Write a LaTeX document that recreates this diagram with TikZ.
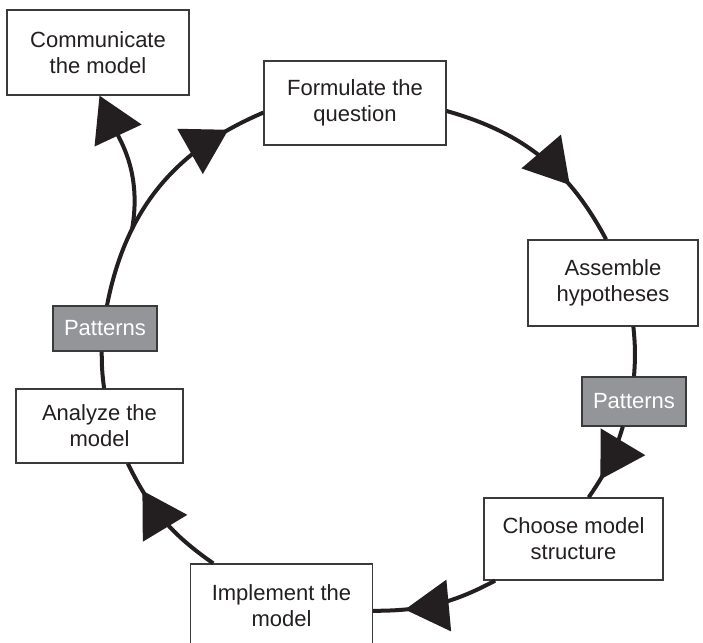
\documentclass[tikz,border=0pt]{standalone}
\usepackage{fontspec}
\setmainfont{Liberation Sans}
\usepackage{tikz}
\usetikzlibrary{arrows.meta,decorations.markings}
\definecolor{patgray}{HTML}{939598}
\definecolor{boxline}{HTML}{3A3A3A}
\definecolor{ink}{HTML}{231F20}
\newcommand{\cyclefont}{\fontsize{22}{26}\selectfont}

\begin{document}
\begin{tikzpicture}
    [x=1pt,y=1pt,line width=4pt,draw=ink,
     every node/.style={rectangle,draw=boxline,line width=1.3pt,fill=white,text=ink,
       align=center,inner sep=0pt,font=\cyclefont},
     pat/.style={fill=patgray,text=white},
     flowtip/.style={decoration={markings,
       mark=at position #1 with {\arrow{Triangle[length=44pt,width=51pt]}}},
       postaction={decorate}}]
    \useasboundingbox (0,0) rectangle (703,642);

    \node[minimum width=182,minimum height=85] (nc) at (98,589.5) {Communicate\\the model};
    \node[minimum width=182,minimum height=84] (nq) at (355,539) {Formulate the\\question};
    \node[minimum width=170,minimum height=86] (nh) at (613,359) {Assemble\\hypotheses};
    \node[pat,minimum width=104,minimum height=49] (np2) at (634,240.5) {Patterns};
    \node[minimum width=179,minimum height=82] (ns) at (573.5,103) {Choose model\\structure};
    \node[minimum width=182,minimum height=84] (ni) at (281.5,36) {Implement the\\model};
    \node[minimum width=167,minimum height=74] (na) at (99.5,216) {Analyze the\\model};
    \node[pat,minimum width=104,minimum height=45] (np1) at (105,313.5) {Patterns};

    % the cycle
    \draw[flowtip=.69] (nq.-5) to[bend left=23] (nh.99);
    \draw (nh.-65) to[bend left=5] (np2.north);
    \draw[flowtip=.73] (np2.-114) to[bend left=9] (ns.70);
    \draw[flowtip=.75] (ns.-152) to[bend left=14] (ni.-3);
    \draw[flowtip=.77] (ni.148) to[bend left=14.5] (na.-53);
    \draw (na.83) to[bend left=4] (np1.-98);
    \draw[flowtip=.85] (np1.85) to[bend left=28] coordinate[pos=.3] (fork) (nq.186);

    % branch out
    \draw[-{Triangle[length=44pt,width=51pt]}] (fork) to[out=80,in=-65] (nc.-88);

  \end{tikzpicture}
\end{document}
